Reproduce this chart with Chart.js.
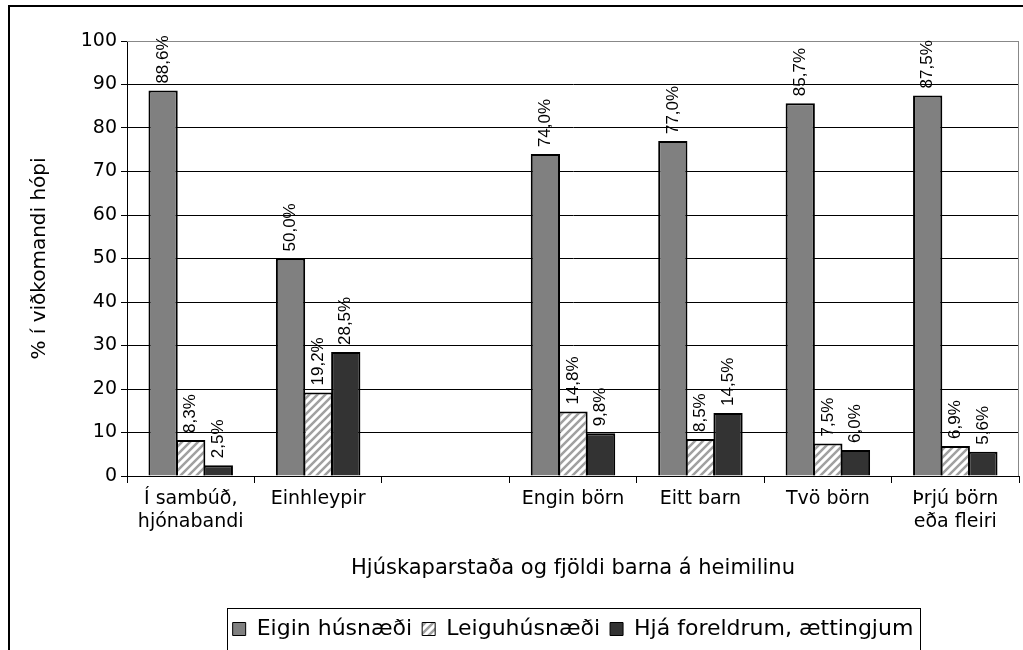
<!DOCTYPE html>
<html>
<head>
<meta charset="utf-8">
<title>Húsnæði eftir hjúskaparstöðu og fjölda barna</title>
<script src="https://cdn.jsdelivr.net/npm/chart.js"></script>
<style>
  body { margin: 0; background: #fff; }
  #chartContainer { width: 1023px; height: 650px; }
</style>
</head>
<body>
<div id="chartContainer"><canvas id="myChart"></canvas></div>
<script>
const categories = [['Í sambúð,', 'hjónabandi'], 'Einhleypir', '', 'Engin börn', 'Eitt barn', 'Tvö börn', ['Þrjú börn', 'eða fleiri']];
const seriesNames = ['Eigin húsnæði', 'Leiguhúsnæði', 'Hjá foreldrum, ættingjum'];
const eiginHusnaedi = [88.6, 50.0, null, 74.0, 77.0, 85.7, 87.5];
const leiguhusnaedi = [8.3, 19.2, null, 14.8, 8.5, 7.5, 6.9];
const hjaForeldrum = [2.5, 28.5, null, 9.8, 14.5, 6.0, 5.6];
const yTickValues = [0, 10, 20, 30, 40, 50, 60, 70, 80, 90, 100];

// hvítt með gráum skástrikum
function makeHatch() {
  const c = document.createElement('canvas');
  c.width = 8; c.height = 8;
  const g = c.getContext('2d');
  g.fillStyle = '#fff';
  g.fillRect(0, 0, 8, 8);
  g.strokeStyle = '#a0a0a0';
  g.lineWidth = 2.5;
  g.beginPath();
  g.moveTo(-2, 10); g.lineTo(10, -2);
  g.moveTo(-2, 2); g.lineTo(2, -2);
  g.moveTo(6, 10); g.lineTo(10, 6);
  g.stroke();
  return g.createPattern(c, 'repeat');
}

const frame = {
  id: 'frame',
  beforeDraw(chart) {
    const ctx = chart.ctx;
    ctx.save();
    ctx.fillStyle = '#fff';
    ctx.fillRect(0, 0, chart.width, chart.height);
    ctx.fillStyle = '#000';
    ctx.fillRect(8, 5, chart.width - 8, 2);
    ctx.fillRect(8, 5, 2, chart.height - 5);
    ctx.restore();
  },
  beforeDatasetsDraw(chart) {
    const {ctx, chartArea: a} = chart;
    ctx.save();
    ctx.strokeStyle = '#888';
    ctx.lineWidth = 1;
    ctx.beginPath();
    ctx.moveTo(a.left, a.top + 0.5);
    ctx.lineTo(a.right - 0.5, a.top + 0.5);
    ctx.lineTo(a.right - 0.5, a.bottom);
    ctx.stroke();
    ctx.restore();
  },
  afterDraw(chart) {
    // rammi utan um skýringar
    const boxes = chart.legend.legendHitBoxes;
    if (!boxes || !boxes.length) return;
    const l = Math.min(...boxes.map(b => b.left)) - 6;
    const r = Math.max(...boxes.map(b => b.left + b.width)) + 6;
    const ctx = chart.ctx;
    ctx.save();
    ctx.strokeStyle = '#000';
    ctx.lineWidth = 1;
    ctx.strokeRect(Math.round(l) + 0.5, Math.round(chart.legend.top) + 0.5, Math.round(r - l), chart.height);
    ctx.restore();
  }
};

const valueLabels = {
  id: 'valueLabels',
  afterDatasetsDraw(chart) {
    const ctx = chart.ctx;
    ctx.save();
    ctx.font = '17px "Liberation Sans", Arial, sans-serif';
    ctx.fillStyle = '#000';
    ctx.textAlign = 'left';
    ctx.textBaseline = 'middle';
    chart.data.datasets.forEach((ds, i) => {
      chart.getDatasetMeta(i).data.forEach((bar, j) => {
        const v = ds.data[j];
        if (v == null) return;
        ctx.save();
        ctx.translate(bar.x, bar.y - 7);
        ctx.rotate(-Math.PI / 2);
        ctx.fillText(v.toFixed(1).replace('.', ',') + '%', 0, 0);
        ctx.restore();
      });
    });
    ctx.restore();
  }
};

const font = 'DejaVu Sans';

const myChart = new Chart(document.getElementById('myChart'), {
  type: 'bar',
  data: {
    labels: categories,
    datasets: [
      { label: seriesNames[0], data: eiginHusnaedi, backgroundColor: '#808080', borderColor: '#000', borderWidth: 2 },
      { label: seriesNames[1], data: leiguhusnaedi, backgroundColor: makeHatch(), borderColor: '#000', borderWidth: 2 },
      { label: seriesNames[2], data: hjaForeldrum, backgroundColor: '#333333', borderColor: '#000', borderWidth: 2 }
    ]
  },
  options: {
    responsive: true,
    maintainAspectRatio: false,
    devicePixelRatio: 1,
    animation: false,
    datasets: { bar: { categoryPercentage: 0.65, barPercentage: 1.06 } },
    layout: { padding: { left: 8, top: 41, right: 4, bottom: 0 } },
    scales: {
      x: {
        grid: { display: true, drawOnChartArea: false, offset: true, tickLength: 7, color: '#000' },
        border: { color: '#000', width: 1 },
        ticks: { font: { family: font, size: 19 }, color: '#000', padding: 5, maxRotation: 0, autoSkip: false },
        title: {
          display: true,
          text: 'Hjúskaparstaða og fjöldi barna á heimilinu',
          font: { family: font, size: 21 },
          color: '#000',
          padding: { top: 0, bottom: 27 }
        },
        afterFit: s => { s.height = 132; }
      },
      y: {
        min: 0,
        max: 100,
        afterBuildTicks: s => { s.ticks = yTickValues.map(v => ({ value: v })); },
        grid: {
          color: c => (c.tick && c.tick.value === 100 ? '#888' : '#000'),
          tickColor: '#000',
          tickLength: 6
        },
        border: { color: '#000', width: 1 },
        ticks: { font: { family: font, size: 19 }, color: '#000', padding: 4 },
        title: {
          display: true,
          text: '% í viðkomandi hópi',
          font: { family: font, size: 20 },
          color: '#000',
          padding: { top: 20, bottom: 0 }
        },
        afterFit: s => { s.width = 119; }
      }
    },
    plugins: {
      tooltip: { enabled: false },
      legend: {
        position: 'bottom',
        fullSize: false,
        labels: {
          font: { family: font, size: 22 },
          color: '#000',
          boxWidth: 13,
          boxHeight: 13,
          padding: 10,
          generateLabels(chart) {
            const items = Chart.defaults.plugins.legend.labels.generateLabels(chart);
            items.forEach(it => { it.lineWidth = 1; });
            return items;
          }
        }
      }
    }
  },
  plugins: [frame, valueLabels]
});
</script>
</body>
</html>
